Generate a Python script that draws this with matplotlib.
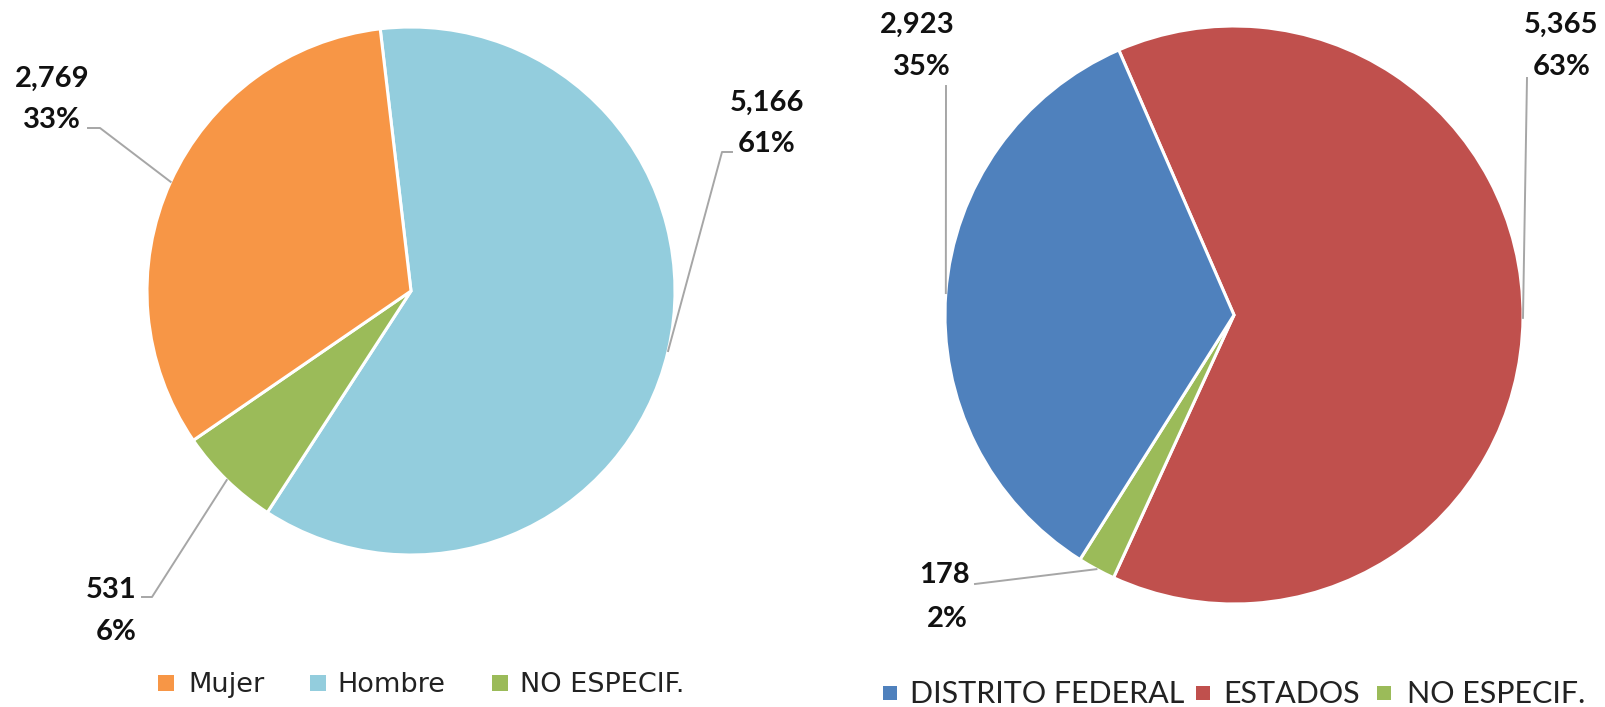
import numpy as np
import matplotlib
matplotlib.use("Agg")
import matplotlib.pyplot as plt

# data
sexo_labels = ["Mujer", "Hombre", "NO ESPECIF."]
sexo_values = [2769, 5166, 531]
sexo_colors = ["#F79646", "#93CDDD", "#9BBB59"]

origen_labels = ["DISTRITO FEDERAL", "ESTADOS", "NO ESPECIF."]
origen_values = [2923, 5365, 178]
origen_colors = ["#4F81BD", "#C0504D", "#9BBB59"]

W, H = 1606, 707

fig = plt.figure(figsize=(W / 100, H / 100), dpi=100)
ax = fig.add_axes([0, 0, 1, 1])


def py(y):
    # pixel row -> data y
    return H - y


def draw_pie(values, colors, draw_order, center, radius, start, label_pos, leader_pts):
    vals = [values[i] for i in draw_order]
    cols = [colors[i] for i in draw_order]
    wedges, _ = ax.pie(vals, colors=cols, startangle=start, counterclock=False,
                       center=(center[0], py(center[1])), radius=radius,
                       wedgeprops=dict(edgecolor="white", linewidth=2.2))
    total = sum(values)
    for k, i in enumerate(draw_order):
        w = wedges[k]
        mid = np.deg2rad((w.theta1 + w.theta2) / 2)
        ex = center[0] + radius * np.cos(mid)
        ey = py(center[1]) + radius * np.sin(mid)
        pts = leader_pts[i]
        xs = [p[0] for p in pts] + [ex]
        ys = [py(p[1]) for p in pts] + [ey]
        ax.plot(xs, ys, color="#A6A6A6", lw=1.4, zorder=1)
        (vx, vy), (px_, pyy) = label_pos[i]
        ax.text(vx, py(vy), f"{values[i]:,}", ha="center", va="baseline",
                fontsize=21, fontweight="bold", family="Lato", color="#111111")
        ax.text(px_, py(pyy), f"{values[i] / total * 100:.0f}%", ha="center", va="baseline",
                fontsize=21, fontweight="bold", family="Lato", color="#111111")


# left pie: Mujer / Hombre / NO ESPECIF.
draw_pie(sexo_values, sexo_colors, [1, 2, 0], (411, 291), 264, 96.7,
         [((52, 87), (52, 128)), ((767, 111), (767, 152)), ((111, 598), (116, 640))],
         [[(88, 128), (100, 128)], [(732, 152), (722, 152)], [(142, 597), (152, 597)]])

# right pie: DISTRITO FEDERAL / ESTADOS / NO ESPECIF.
draw_pie(origen_values, origen_colors, [1, 2, 0], (1234, 315), 289, 113.5,
         [((917, 33), (922, 75)), ((1561, 33), (1562, 75)), ((944, 583), (947, 627))],
         [[(946, 86)], [(1527, 78)], [(975, 584)]])

# legends
left_sq = [166, 318, 500]
left_tx = [188, 337, 520]
for c, lab, sx, tx in zip(sexo_colors, sexo_labels, left_sq, left_tx):
    ax.scatter([sx], [py(683)], marker="s", s=120, color=c, linewidths=0, zorder=3)
    ax.text(tx, py(692), lab, ha="left", va="baseline", fontsize=19.5,
            family="DejaVu Sans", color="#222222")

right_sq = [890, 1203, 1384]
right_tx = [910, 1223, 1407]
for c, lab, sx, tx in zip(origen_colors, origen_labels, right_sq, right_tx):
    ax.scatter([sx], [py(693)], marker="s", s=100, color=c, linewidths=0, zorder=3)
    ax.text(tx, py(703), lab, ha="left", va="baseline", fontsize=22,
            family="Lato", color="#222222")

ax.set_xlim(0, W)
ax.set_ylim(0, H)
ax.set_aspect("equal")
ax.axis("off")

fig.savefig("out.png", dpi=100, facecolor="white")
